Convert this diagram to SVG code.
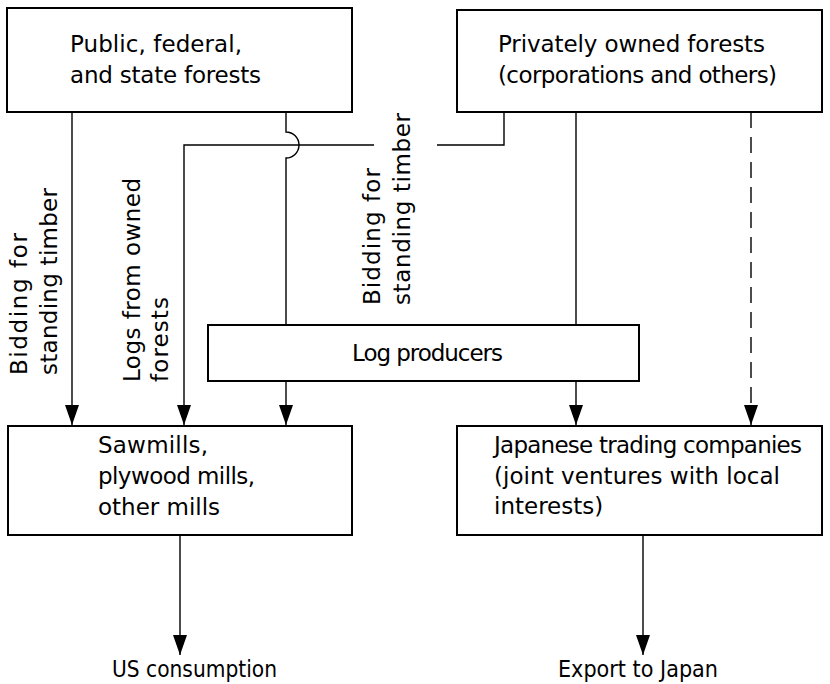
<svg xmlns="http://www.w3.org/2000/svg" width="830" height="684" viewBox="0 0 830 684">
<style>
.box{fill:#fff;stroke:#000;stroke-width:2}
.t{font-family:"DejaVu Sans","Liberation Sans",sans-serif;font-size:23px;fill:#000}
.c{fill:none;stroke:#000;stroke-width:1.4}
.d{stroke-dasharray:16 9}
</style>
<defs>
<marker id="ah" viewBox="0 0 20 14" refX="20" refY="7" markerWidth="20" markerHeight="14" markerUnits="userSpaceOnUse" orient="auto">
<path d="M0,0 L20,7 L0,14 Z" fill="#000"/>
</marker>
</defs>
<rect width="830" height="684" fill="#fff"/>
<g id="connectors">
<path class="c" d="M72,112 V425" marker-end="url(#ah)"/>
<path class="c" d="M374,145 H184 V425" marker-end="url(#ah)"/>
<path class="c" d="M437,145 H504 V112"/>
<path class="c" d="M286,112 V132 A13,13 0 0 1 286,158 V325"/>
<path class="c" d="M286,381 V425" marker-end="url(#ah)"/>
<path class="c" d="M576,112 V325"/>
<path class="c" d="M576,381 V425" marker-end="url(#ah)"/>
<path class="c d" d="M751,112 V425" marker-end="url(#ah)"/>
<path class="c" d="M180,535 V655" marker-end="url(#ah)"/>
<path class="c" d="M643,535 V655" marker-end="url(#ah)"/>
</g>
<g id="labels">
<text class="t" transform="translate(27,375) rotate(-90)" textLength="142" lengthAdjust="spacing">Bidding for</text>
<text class="t" transform="translate(57,375) rotate(-90)" textLength="187" lengthAdjust="spacing">standing timber</text>
<text class="t" transform="translate(140,382) rotate(-90)" textLength="204" lengthAdjust="spacing">Logs from owned</text>
<text class="t" transform="translate(168,382) rotate(-90)" textLength="85" lengthAdjust="spacing">forests</text>
<text class="t" transform="translate(380,305) rotate(-90)" textLength="137" lengthAdjust="spacing">Bidding for</text>
<text class="t" transform="translate(410,305) rotate(-90)" textLength="192" lengthAdjust="spacing">standing timber</text>
</g>
<g id="public">
<rect class="box" x="7" y="8" width="345" height="104"/>
<text class="t" x="70" y="52" textLength="172" lengthAdjust="spacing">Public, federal,</text>
<text class="t" x="70" y="83" textLength="191" lengthAdjust="spacing">and state forests</text>
</g>
<g id="private">
<rect class="box" x="457" y="10" width="365" height="102"/>
<text class="t" x="498" y="52" textLength="267" lengthAdjust="spacing">Privately owned forests</text>
<text class="t" x="498" y="83" textLength="279" lengthAdjust="spacing">(corporations and others)</text>
</g>
<g id="logproducers">
<rect class="box" x="208" y="325" width="431" height="56"/>
<text class="t" x="352" y="361" textLength="151" lengthAdjust="spacing">Log producers</text>
</g>
<g id="sawmills">
<rect class="box" x="8" y="426" width="344" height="109"/>
<text class="t" x="98" y="453" textLength="110" lengthAdjust="spacing">Sawmills,</text>
<text class="t" x="98" y="484" textLength="157" lengthAdjust="spacing">plywood mills,</text>
<text class="t" x="98" y="515" textLength="122" lengthAdjust="spacing">other mills</text>
</g>
<g id="japanese">
<rect class="box" x="457" y="426" width="365" height="109"/>
<text class="t" x="494" y="453" textLength="308" lengthAdjust="spacing">Japanese trading companies</text>
<text class="t" x="494" y="484" textLength="286" lengthAdjust="spacing">(joint ventures with local</text>
<text class="t" x="494" y="514">interests)</text>
</g>
<g id="us">
<text class="t" x="112" y="677" textLength="165" lengthAdjust="spacingAndGlyphs">US consumption</text>
</g>
<g id="export">
<text class="t" x="558" y="677" textLength="160" lengthAdjust="spacingAndGlyphs">Export to Japan</text>
</g>
</svg>
